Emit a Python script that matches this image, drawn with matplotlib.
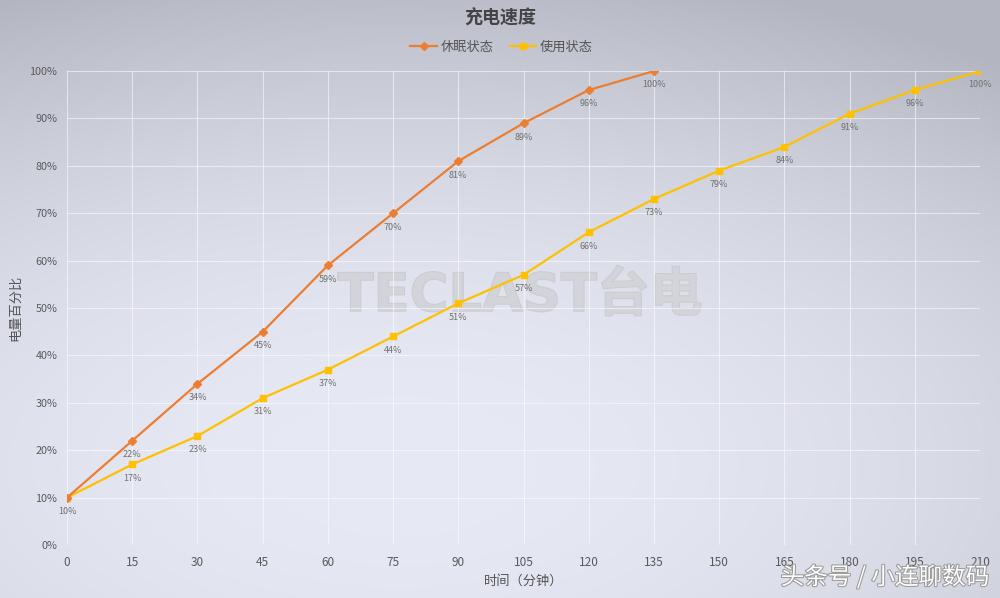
import numpy as np
import matplotlib.pyplot as plt
import matplotlib.patheffects as pe
from matplotlib.colors import to_rgb

plt.rcParams['font.family'] = ['Noto Sans CJK SC', 'DejaVu Sans']

minutes = [0, 15, 30, 45, 60, 75, 90, 105, 120, 135, 150, 165, 180, 195, 210]
sleep_pct = [10, 22, 34, 45, 59, 70, 81, 89, 96, 100]
use_pct = [10, 17, 23, 31, 37, 44, 51, 57, 66, 73, 79, 84, 91, 96, 100]

orange = '#ED7D31'
yellow = '#FFC000'

fig = plt.figure(figsize=(10, 5.98), dpi=100)

# lavender-gray gradient background, brightest lower centre
bg = fig.add_axes([0, 0, 1, 1], zorder=-10)
yy, xx = np.mgrid[0:1:300j, 0:1:500j]
d2 = ((xx - 0.4) / 1.0) ** 2 + ((yy - 0.78) / 0.85) ** 2
f = np.clip(1 - d2, 0, 1)[..., None]
dark = np.array(to_rgb('#b3b6c0'))
light = np.array(to_rgb('#e7e9f4'))
bg.imshow(dark + (light - dark) * f, aspect='auto', extent=[0, 1, 0, 1], origin='upper')
bg.set_axis_off()

ax = fig.add_axes([0.067, 0.0886, 0.913, 0.7925])
ax.patch.set_alpha(0)

x_sleep = minutes[:len(sleep_pct)]
ax.plot(x_sleep, sleep_pct, color=orange, marker='D', markersize=4.5, linewidth=1.6, label='休眠状态', zorder=4)
ax.plot(minutes, use_pct, color=yellow, marker='s', markersize=5, linewidth=1.6, label='使用状态', zorder=3)

for x, y in zip(x_sleep, sleep_pct):
    ax.annotate(f'{y}%', (x, y), xytext=(0, -10), textcoords='offset points',
                ha='center', va='center', fontsize=6.5, color='#707070', zorder=5)
for x, y in zip(minutes, use_pct):
    if x == 0:
        continue
    ax.annotate(f'{y}%', (x, y), xytext=(0, -10), textcoords='offset points',
                ha='center', va='center', fontsize=6.5, color='#707070', zorder=5)

ax.set_xlim(0, 210)
ax.set_ylim(0, 100)
ax.set_xticks(minutes)
ax.set_yticks(range(0, 101, 10))
ax.set_yticklabels([f'{v}%' for v in range(0, 101, 10)])
ax.grid(True, color='white', linewidth=0.8, alpha=0.55)
for s in ax.spines.values():
    s.set_visible(False)
ax.tick_params(length=0, labelsize=8.5, colors='#5a5a5a')
ax.tick_params(axis='x', pad=8)
ax.tick_params(axis='y', pad=7, labelsize=7.8)

ax.set_xlabel('时间（分钟）', fontsize=9.5, color='#555555', labelpad=4)
ax.set_ylabel('电量百分比', fontsize=9.5, color='#555555', labelpad=5)

fig.text(0.5, 0.97, '充电速度', ha='center', va='center', fontsize=13, color='#444444', fontweight='bold')
ax.legend(loc='center', bbox_to_anchor=(0.476, 1.05), ncol=2, frameon=False,
          fontsize=9.5, labelcolor='#555555', handlelength=2, columnspacing=1.2, handletextpad=0.3)

# watermarks
fig.text(0.52, 0.505, 'TECLAST台电', ha='center', va='center', fontsize=38, fontweight='bold',
         family=['DejaVu Sans', 'Noto Sans CJK SC'], color='#d3d4da', alpha=0.8, zorder=-5,
         path_effects=[pe.withStroke(linewidth=1, foreground='#c4c5cb')])
fig.text(0.885, 0.035, '头条号 / 小连聊数码', ha='center', va='center', fontsize=17, color='white',
         path_effects=[pe.withStroke(linewidth=1.5, foreground='#999999')])

fig.savefig('out.png', dpi=100)
